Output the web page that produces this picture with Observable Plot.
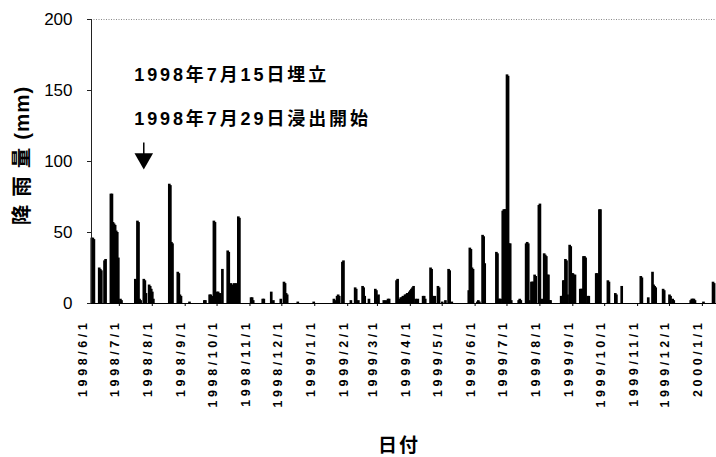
<!DOCTYPE html>
<html>
<head>
<meta charset="utf-8">
<script src="https://cdn.jsdelivr.net/npm/d3@7"></script>
<script src="https://cdn.jsdelivr.net/npm/@observablehq/plot@0.6"></script>
<style>
  html, body { margin: 0; padding: 0; background: #fff; }
  #chart { width: 716px; height: 457px; }
  #chart svg { display: block; }
</style>
</head>
<body>
<div id="chart"></div>
<script>
// Month tick labels along the date axis
const monthLabels = [
  "1998/6/1", "1998/7/1", "1998/8/1", "1998/9/1", "1998/10/1", "1998/11/1", "1998/12/1",
  "1999/1/1", "1999/2/1", "1999/3/1", "1999/4/1", "1999/5/1", "1999/6/1", "1999/7/1",
  "1999/8/1", "1999/9/1", "1999/10/1", "1999/11/1", "1999/12/1", "2000/1/1"
];

// Daily rainfall (mm): observation dates and amounts
const rainDates = [
  "1998-06-05", "1998-06-06", "1998-06-07", "1998-06-12", "1998-06-13", "1998-06-14",
  "1998-06-17", "1998-06-18", "1998-06-23", "1998-06-24", "1998-06-25", "1998-06-26",
  "1998-06-27", "1998-06-28", "1998-06-29", "1998-06-30", "1998-07-02", "1998-07-03",
  "1998-07-16", "1998-07-17", "1998-07-18", "1998-07-19", "1998-07-20", "1998-07-21",
  "1998-07-24", "1998-07-25", "1998-07-26", "1998-07-29", "1998-07-30", "1998-07-31",
  "1998-08-01", "1998-08-02", "1998-08-17", "1998-08-18", "1998-08-19", "1998-08-20",
  "1998-08-25", "1998-08-26", "1998-08-27", "1998-08-28", "1998-09-05", "1998-09-19",
  "1998-09-20", "1998-09-24", "1998-09-25", "1998-09-26", "1998-09-28", "1998-09-29",
  "1998-10-01", "1998-10-02", "1998-10-03", "1998-10-04", "1998-10-06", "1998-10-11",
  "1998-10-12", "1998-10-14", "1998-10-15", "1998-10-16", "1998-10-17", "1998-10-18",
  "1998-10-19", "1998-10-21", "1998-10-22", "1998-11-02", "1998-11-03", "1998-11-04",
  "1998-11-13", "1998-11-14", "1998-11-21", "1998-11-23", "1998-11-30", "1998-12-03",
  "1998-12-04", "1998-12-05", "1998-12-06", "1998-12-16", "1998-12-31",
  "1999-01-19", "1999-01-20", "1999-01-22", "1999-01-23", "1999-01-24", "1999-01-27",
  "1999-01-28", "1999-02-04", "1999-02-08", "1999-02-09", "1999-02-11", "1999-02-15",
  "1999-02-16", "1999-02-17", "1999-02-21", "1999-02-27", "1999-02-28", "1999-03-01",
  "1999-03-02", "1999-03-07", "1999-03-08", "1999-03-09", "1999-03-11", "1999-03-12",
  "1999-03-19", "1999-03-20", "1999-03-21", "1999-03-22", "1999-03-23", "1999-03-24",
  "1999-03-25", "1999-03-26", "1999-03-27", "1999-03-28", "1999-03-29", "1999-03-30",
  "1999-03-31", "1999-04-01", "1999-04-02", "1999-04-03", "1999-04-04", "1999-04-06",
  "1999-04-08", "1999-04-13", "1999-04-14", "1999-04-15", "1999-04-20", "1999-04-21",
  "1999-04-22", "1999-04-23", "1999-04-24", "1999-04-27", "1999-04-28", "1999-05-01",
  "1999-05-04", "1999-05-07", "1999-05-08", "1999-05-10", "1999-05-26", "1999-05-27",
  "1999-05-28", "1999-05-29", "1999-05-30", "1999-06-03", "1999-06-04", "1999-06-05",
  "1999-06-08", "1999-06-09", "1999-06-10", "1999-06-21", "1999-06-22", "1999-06-23",
  "1999-06-24", "1999-06-25", "1999-06-27", "1999-06-28", "1999-06-29", "1999-06-30",
  "1999-07-01", "1999-07-02", "1999-07-03", "1999-07-04", "1999-07-05", "1999-07-12",
  "1999-07-13", "1999-07-14", "1999-07-19", "1999-07-20", "1999-07-21", "1999-07-22",
  "1999-07-24", "1999-07-25", "1999-07-26", "1999-07-27", "1999-07-28", "1999-07-31",
  "1999-08-01", "1999-08-03", "1999-08-05", "1999-08-06", "1999-08-07", "1999-08-08",
  "1999-08-09", "1999-08-10", "1999-08-11", "1999-08-21", "1999-08-22", "1999-08-23",
  "1999-08-24", "1999-08-25", "1999-08-26", "1999-08-27", "1999-08-29", "1999-08-30",
  "1999-08-31", "1999-09-01", "1999-09-02", "1999-09-03", "1999-09-08", "1999-09-09",
  "1999-09-10", "1999-09-11", "1999-09-12", "1999-09-13", "1999-09-15", "1999-09-16",
  "1999-09-23", "1999-09-24", "1999-09-25", "1999-09-26", "1999-09-27", "1999-10-04",
  "1999-10-05", "1999-10-11", "1999-10-12", "1999-10-17", "1999-11-04", "1999-11-05",
  "1999-11-11", "1999-11-15", "1999-11-16", "1999-11-17", "1999-11-18", "1999-11-25",
  "1999-11-26", "1999-12-01", "1999-12-02", "1999-12-04", "1999-12-05", "1999-12-21",
  "1999-12-22", "1999-12-23", "1999-12-24", "1999-12-25", "2000-01-02", "2000-01-11",
  "2000-01-12"
];
const rainMM = [
  46, 46, 45, 25, 24, 23,
  30, 31, 77, 77, 57, 56,
  55, 51, 50, 32, 3, 2,
  17, 16, 58, 57, 3, 2,
  17, 16, 7, 13, 12, 10,
  8, 3, 84, 83, 43, 42,
  22, 21, 6, 5, 1, 2,
  2, 6, 6, 5, 58, 57,
  8, 8, 6, 7, 24, 37,
  36, 14, 13, 12, 14, 13,
  14, 61, 60, 4, 4, 2,
  3, 3, 8, 2, 3, 15,
  14, 7, 6, 1, 1,
  3, 2, 5, 6, 5, 29,
  30, 2, 11, 10, 2, 12,
  11, 5, 3, 10, 9, 5,
  6, 2, 1, 2, 3, 3,
  16, 17, 3, 2, 4, 4,
  5, 5, 6, 6, 7, 7,
  8, 9, 10, 11, 12, 3,
  3, 5, 5, 3, 25, 24,
  5, 4, 5, 12, 11, 1,
  2, 24, 23, 1, 9, 39,
  38, 25, 24, 1, 2, 1,
  48, 47, 28, 36, 35, 3,
  3, 3, 65, 66, 66, 66,
  161, 160, 42, 42, 2, 2,
  3, 2, 42, 43, 42, 2,
  15, 15, 15, 20, 19, 69,
  70, 3, 35, 34, 33, 20,
  20, 2, 2, 5, 5, 16,
  16, 31, 30, 6, 41, 40,
  21, 21, 20, 20, 10, 10,
  10, 33, 33, 32, 5, 5,
  21, 21, 20, 66, 66, 16,
  15, 7, 6, 12, 19, 18,
  4, 22, 13, 12, 11, 10,
  9, 6, 5, 3, 2, 2,
  3, 3, 3, 2, 1, 15,
  14
];

// Annotations: landfill date and start of leachate sampling
const noteTexts = ["1998年7月15日埋立", "1998年7月29日浸出開始"];
const noteMM = [161, 130];
const noteDate = "1998-07-15";
const arrowDate = "1998-07-24";
const arrowTopMM = 113;
const arrowHeadMM = 102;

const yTitleParts = ["降雨量", "(mm)"];
const yTitle = yTitleParts.join("");
const xTitle = "日付";

const parseDay = d3.utcParse("%Y-%m-%d");
const parseLabel = d3.utcParse("%Y/%m/%d");

const rain = rainDates.map((d, i) => {
  const start = parseDay(d);
  return { start, end: d3.utcDay.offset(start, 1), mm: rainMM[i] };
});
const months = monthLabels.map(label => ({ date: parseLabel(label), label }));
const notes = noteTexts.map((text, i) => ({ date: parseDay(noteDate), mm: noteMM[i], text }));
const arrowX = parseDay(arrowDate);

const xStart = new Date(Date.UTC(1998, 5, 4, 18, 30));
const xEnd = new Date(Date.UTC(2000, 0, 14, 7, 0));

const latin = "'Liberation Sans', Arial, 'Noto Sans CJK JP', sans-serif";

const chart = Plot.plot({
  width: 716,
  height: 457,
  marginLeft: 91,
  marginRight: 0,
  marginTop: 19,
  marginBottom: 154,
  style: { fontFamily: latin, color: "#000", background: "#fff" },
  x: { type: "utc", domain: [xStart, xEnd], axis: null },
  y: { domain: [0, 200], axis: null },
  marks: [
    // dotted upper border of the plot area
    Plot.ruleY([200], { stroke: "#8a8a8a", strokeDasharray: "1,1.5" }),
    // daily rainfall bars
    Plot.rectY(rain, {
      x1: "start", x2: "end", y: "mm",
      fill: "#000", insetLeft: -0.8, insetRight: -0.8
    }),
    // axes
    Plot.ruleX([xStart], { stroke: "#222" }),
    Plot.ruleY([0], { stroke: "#000" }),
    Plot.axisY({
      ticks: [0, 50, 100, 150, 200], tickSize: 4, tickPadding: 15,
      fontSize: 17, label: null, stroke: "#222"
    }),
    Plot.axisX({
      ticks: months.map(m => m.date).filter(d => d >= xStart),
      tickSize: 3, tickFormat: () => "", label: null
    }),
    Plot.text(months, {
      x: "date", text: "label", frameAnchor: "bottom",
      rotate: -90, textAnchor: "end", dy: 16,
      fontSize: 12.5, fontWeight: "bold"
    }),
    // axis titles
    Plot.text([yTitle], {
      frameAnchor: "left", textAnchor: "middle", rotate: -90, dx: -69, dy: -6,
      fontSize: 20.5, fontWeight: "bold"
    }),
    Plot.text([xTitle], {
      frameAnchor: "bottom", dx: -5, dy: 148,
      fontSize: 19, fontWeight: "bold"
    }),
    // event annotations
    Plot.text(notes, {
      x: "date", y: "mm", text: "text", textAnchor: "start",
      fontSize: 18, fontWeight: "bold"
    }),
    Plot.ruleX([arrowX], { y1: arrowHeadMM, y2: arrowTopMM, stroke: "#000", strokeWidth: 1.5 }),
    Plot.dot([arrowX], {
      x: d => d, y: () => arrowHeadMM, symbol: "triangle", r: 6.9,
      rotate: 180, fill: "#000", stroke: "none"
    })
  ]
});

document.getElementById("chart").appendChild(chart);

// letter spacing for the wide-set labels
const spacing = new Map([
  ...monthLabels.map(l => [l, "3.6px"]),
  ...noteTexts.map(t => [t, "2.9px"]),
  [xTitle, "2px"]
]);
d3.select(chart).selectAll("text").each(function () {
  const s = spacing.get(this.textContent);
  if (s) this.style.letterSpacing = s;
  if (this.textContent === yTitle) {
    // kanji set wide, unit in parentheses set tight
    const node = d3.select(this);
    node.text(null);
    node.append("tspan").style("letter-spacing", "8px").text(yTitleParts[0]);
    node.append("tspan").style("letter-spacing", "1px").text(yTitleParts[1]);
  }
});
</script>
</body>
</html>
